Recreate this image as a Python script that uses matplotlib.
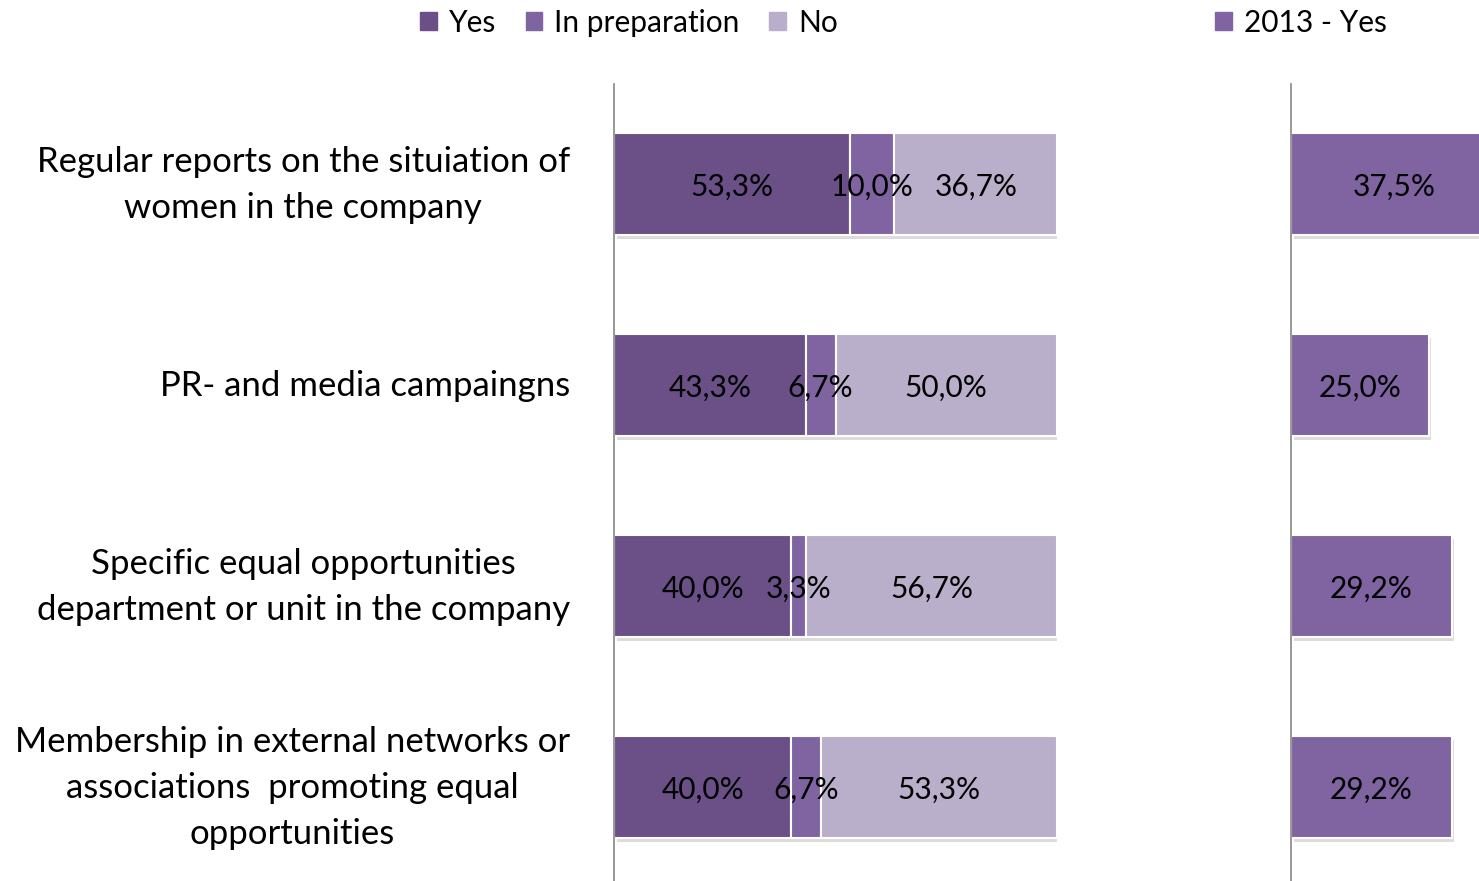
import matplotlib.pyplot as plt
import matplotlib.patheffects as pe
from matplotlib.patches import Patch
import numpy as np

plt.rcParams['font.family'] = ['Lato', 'DejaVu Sans']

categories = ['Regular reports on the situiation of\nwomen in the company',
              'PR- and media campaingns',
              'Specific equal opportunities\ndepartment or unit in the company',
              'Membership in external networks or\nassociations  promoting equal\nopportunities']
yes = [53.3, 43.3, 40.0, 40.0]
prep = [10.0, 6.7, 3.3, 6.7]
no = [36.7, 50.0, 56.7, 53.3]
yes_2013 = [37.5, 25.0, 29.2, 29.2]

c_yes = '#6a5087'
c_prep = '#8064a2'
c_no = '#baafcb'

W, H = 1479, 881
fig = plt.figure(figsize=(W / 100, H / 100), dpi=100)

bottom = (H - 887.5) / H
height = 804 / H
ax = fig.add_axes([614 / W, bottom, 443 / W, height])
ax2 = fig.add_axes([1291 / W, bottom, 550 / W, height])

y = np.arange(len(categories))
shadow = [pe.SimplePatchShadow(offset=(2, -3), shadow_rgbFace='#777777', alpha=0.25), pe.Normal()]


def fmt(v):
    return f'{v:.1f}%'.replace('.', ',')


def draw_bars(a, vals, left, color):
    bars = a.barh(y, vals, left=left, height=0.507, color=color,
                  edgecolor='white', linewidth=1.5)
    for b in bars:
        b.set_path_effects(shadow)
    for yi, v, l in zip(y, vals, left):
        a.text(l + v / 2, yi, fmt(v), ha='center', va='center_baseline',
               fontsize=21.5, color='black')


zeros = [0] * 4
draw_bars(ax, yes, zeros, c_yes)
draw_bars(ax, prep, yes, c_prep)
draw_bars(ax, no, [a + b for a, b in zip(yes, prep)], c_no)
draw_bars(ax2, yes_2013, zeros, c_prep)

for a in (ax, ax2):
    a.set_xlim(0, 100)
    a.set_ylim(len(categories) - 0.5, -0.5)
    for s in ['top', 'right', 'bottom']:
        a.spines[s].set_visible(False)
    a.spines['left'].set_color('#868686')
    a.spines['left'].set_linewidth(1.2)
    a.set_xticks([])
    a.set_yticks([])

for yi, lab in zip(y, categories):
    ax.annotate(lab, xy=(0, yi), xycoords=('axes fraction', 'data'),
                xytext=(-44, -1), textcoords='offset pixels',
                ha='right', va='center', multialignment='center',
                fontsize=25, linespacing=1.55)

h1 = [Patch(color=c_yes, label='Yes'), Patch(color=c_prep, label='In preparation'),
      Patch(color=c_no, label='No')]
fig.legend(handles=h1, loc='center', bbox_to_anchor=(629 / W, 1 - 23 / H), ncol=3,
           frameon=False, fontsize=21.5, handlelength=0.55, handleheight=0.55,
           handletextpad=0.4, columnspacing=1.0)
h2 = [Patch(color=c_prep, label='2013 - Yes')]
fig.legend(handles=h2, loc='center', bbox_to_anchor=(1301 / W, 1 - 23 / H),
           frameon=False, fontsize=21.5, handlelength=0.55, handleheight=0.55,
           handletextpad=0.4)

fig.savefig('out.png', dpi=100)
